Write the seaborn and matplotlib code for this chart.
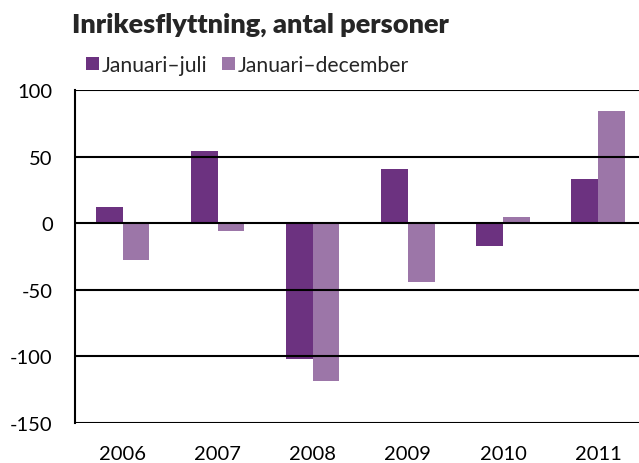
import pandas as pd
import seaborn as sns
import matplotlib.pyplot as plt

years = ['2006', '2007', '2008', '2009', '2010', '2011']
jan_jul = [12.5, 54.5, -102.3, 41, -17.2, 33.4]
jan_dec = [-27.7, -5.5, -118.6, -43.8, 5, 84]
series = ['Januari–juli', 'Januari–december']
colors = ['#6c3280', '#9c76a8']

df = pd.DataFrame({
    'year': years * 2,
    'value': jan_jul + jan_dec,
    'serie': [series[0]] * len(years) + [series[1]] * len(years),
})

sns.set_style('white')
plt.rcParams['font.family'] = ['Lato', 'DejaVu Sans']
plt.rcParams['axes.unicode_minus'] = False

fig = plt.figure(figsize=(6.39, 4.64), dpi=100)
ax = fig.add_axes([0.1174, 0.0862, 0.8826, 0.7177])

sns.barplot(data=df, x='year', y='value', hue='serie', palette=colors,
            width=0.56, saturation=1, ax=ax, linewidth=0)

ax.set_ylim(-150, 100)
ax.set_yticks([-150, -100, -50, 0, 50, 100])
ax.set_xlim(-0.5, 5.43)
ax.grid(axis='y', color='black', linewidth=1.5)
ax.set_axisbelow(False)
for side in ['top', 'right', 'bottom']:
    ax.spines[side].set_visible(False)
ax.spines['left'].set_color('black')
ax.spines['left'].set_linewidth(1.5)
ax.tick_params(axis='both', length=0, labelsize=14.5, colors='black')
ax.tick_params(axis='x', pad=16)
ax.tick_params(axis='y', pad=16)
ax.set_xlabel('')
ax.set_ylabel('')

ax.legend(ncol=2, frameon=False, loc='center left',
          bbox_to_anchor=(0.1346, 0.8578), bbox_transform=fig.transFigure,
          handlelength=0.62, handleheight=0.62, handletextpad=0.12,
          columnspacing=0.7, fontsize=15.2, borderaxespad=0, borderpad=0)

fig.text(0.112, 0.9295, 'Inrikesflyttning, antal personer',
         fontsize=19.5, fontweight='heavy', va='baseline', ha='left')

fig.savefig('out.png', dpi=100)
